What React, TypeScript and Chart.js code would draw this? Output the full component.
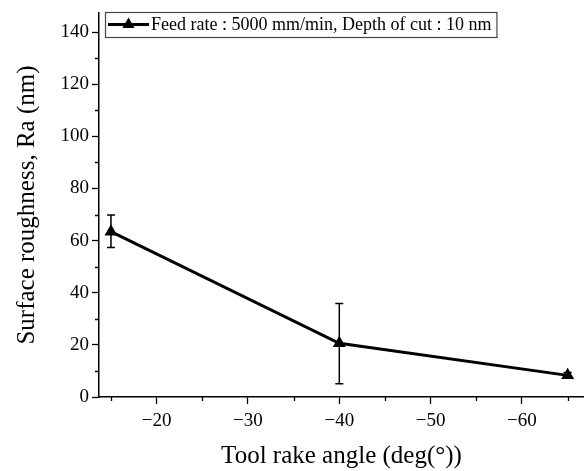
import React, { useEffect, useRef } from 'react';
import { Chart, registerables } from 'chart.js';

Chart.register(...registerables);

// ---- data ----
const rakeAngles = [-15, -40, -65];
const roughness = [63.4, 20.6, 8.3];
const errorLow = [57.3, 5.1, 7.2];
const errorHigh = [69.8, 35.9, 9.4];

const xMajorTicks = [-20, -30, -40, -50, -60];
const xMinorTicks = [-15, -25, -35, -45, -55, -65];
const yMajorTicks = [0, 20, 40, 60, 80, 100, 120, 140];
const yMinorTicks = [10, 30, 50, 70, 90, 110, 130];

const legendLabel = 'Feed rate : 5000 mm/min, Depth of cut : 10 nm';
const xTitle = 'Tool rake angle (deg(\u00B0))';
const yTitle = 'Surface roughness, Ra (nm)';

const FONT = '"Liberation Serif", "Times New Roman", serif';

const fmt = (v: number) => (v < 0 ? '\u2212' + Math.abs(v) : String(v));

const extrasPlugin = {
  id: 'extras',
  afterDatasetsDraw(chart: any) {
    const ctx = chart.ctx as CanvasRenderingContext2D;
    const xs = chart.scales.x;
    const ys = chart.scales.y;
    ctx.save();
    // error bars
    ctx.strokeStyle = '#000';
    ctx.lineWidth = 1.5;
    for (let i = 0; i < rakeAngles.length; i++) {
      const px = xs.getPixelForValue(rakeAngles[i]);
      const lo = ys.getPixelForValue(errorLow[i]);
      const hi = ys.getPixelForValue(errorHigh[i]);
      ctx.beginPath();
      ctx.moveTo(px, lo);
      ctx.lineTo(px, hi);
      ctx.moveTo(px - 4, lo);
      ctx.lineTo(px + 4, lo);
      ctx.moveTo(px - 4, hi);
      ctx.lineTo(px + 4, hi);
      ctx.stroke();
    }
    // minor ticks
    ctx.lineWidth = 1.3;
    const left = chart.chartArea.left;
    const bottom = chart.chartArea.bottom;
    ctx.beginPath();
    for (const v of xMinorTicks) {
      const px = Math.round(xs.getPixelForValue(v)) + 0.5;
      ctx.moveTo(px, bottom);
      ctx.lineTo(px, bottom + 4);
    }
    for (const v of yMinorTicks) {
      const py = Math.round(ys.getPixelForValue(v)) + 0.5;
      ctx.moveTo(left, py);
      ctx.lineTo(left - 4, py);
    }
    ctx.stroke();

    // legend
    const bx = left + 6;
    const by = 12;
    const fontSize = 18;
    ctx.font = `${fontSize}px ${FONT}`;
    const tw = ctx.measureText(legendLabel).width;
    const bw = 47 + tw + 4;
    const bh = 25;
    ctx.fillStyle = '#fff';
    ctx.fillRect(bx, by, bw, bh);
    ctx.strokeStyle = '#444';
    ctx.lineWidth = 1.2;
    ctx.strokeRect(bx + 0.5, by + 0.5, bw, bh);
    const ly = by + 12.5;
    ctx.strokeStyle = '#000';
    ctx.lineWidth = 3;
    ctx.beginPath();
    ctx.moveTo(bx + 3, ly);
    ctx.lineTo(bx + 44, ly);
    ctx.stroke();
    // triangle marker
    const cx = bx + 23.5;
    const r = 7;
    ctx.fillStyle = '#000';
    ctx.beginPath();
    ctx.moveTo(cx, ly - r);
    ctx.lineTo(cx + r * 0.866, ly + r * 0.5);
    ctx.lineTo(cx - r * 0.866, ly + r * 0.5);
    ctx.closePath();
    ctx.fill();
    ctx.fillStyle = '#000';
    ctx.textBaseline = 'middle';
    ctx.textAlign = 'left';
    ctx.fillText(legendLabel, bx + 46, ly + 1);
    ctx.restore();
  },
};

export default function App() {
  const ref = useRef<HTMLCanvasElement | null>(null);

  useEffect(() => {
    if (!ref.current) return;
    const chart = new Chart(ref.current, {
      type: 'line',
      data: {
        datasets: [
          {
            label: legendLabel,
            data: rakeAngles.map((x, i) => ({ x, y: roughness[i] })),
            borderColor: '#000',
            backgroundColor: '#000',
            borderWidth: 3,
            pointStyle: 'triangle',
            pointRadius: 7.5,
            pointHoverRadius: 7.5,
            pointBorderWidth: 0,
            tension: 0,
            clip: false as any,
          },
        ],
      },
      plugins: [extrasPlugin],
      options: {
        animation: false,
        responsive: false,
        maintainAspectRatio: false,
        layout: { autoPadding: false, padding: { top: 13, right: 0, left: 0, bottom: 0 } },
        plugins: {
          legend: { display: false },
          tooltip: { enabled: false },
        },
        scales: {
          x: {
            type: 'linear',
            reverse: true,
            min: -66.79,
            max: -13.69,
            position: 'bottom',
            afterBuildTicks: (s: any) => {
              s.ticks = xMajorTicks.map((v) => ({ value: v }));
            },
            afterFit: (s: any) => {
              s.height = 74;
              s.paddingLeft = 0;
              s.paddingRight = 0;
            },
            grid: {
              drawOnChartArea: false,
              drawTicks: true,
              tickLength: 7,
              tickColor: '#000',
              tickWidth: 1.3,
            },
            border: { display: true, color: '#000', width: 1.5 },
            ticks: {
              color: '#000',
              font: { family: FONT, size: 19 },
              padding: 6,
              maxRotation: 0,
              autoSkip: false,
              callback: (v: any) => fmt(Number(v)),
            },
            title: {
              display: true,
              text: xTitle,
              color: '#000',
              font: { family: FONT, size: 25 },
              padding: { top: 0, bottom: 0 },
            },
          },
          y: {
            type: 'linear',
            min: 0,
            max: 147.3,
            afterBuildTicks: (s: any) => {
              s.ticks = yMajorTicks.map((v) => ({ value: v }));
            },
            afterFit: (s: any) => {
              s.width = 99;
              s.paddingTop = 0;
              s.paddingBottom = 0;
            },
            grid: {
              drawOnChartArea: false,
              drawTicks: true,
              tickLength: 7,
              tickColor: '#000',
              tickWidth: 1.3,
            },
            border: { display: true, color: '#000', width: 1.5 },
            ticks: {
              color: '#000',
              font: { family: FONT, size: 19 },
              padding: 3,
              autoSkip: false,
              callback: (v: any) => fmt(Number(v)),
            },
            title: {
              display: true,
              text: yTitle,
              color: '#000',
              font: { family: FONT, size: 25 },
              padding: { top: 12, bottom: 0 },
            },
          },
        },
      } as any,
    });
    return () => chart.destroy();
  }, []);

  return (
    <div style={{ position: 'fixed', left: 0, top: 0, width: 584, height: 471, background: '#fff' }}>
      <canvas ref={ref} width={584} height={471} style={{ display: 'block', width: 584, height: 471 }} />
    </div>
  );
}
